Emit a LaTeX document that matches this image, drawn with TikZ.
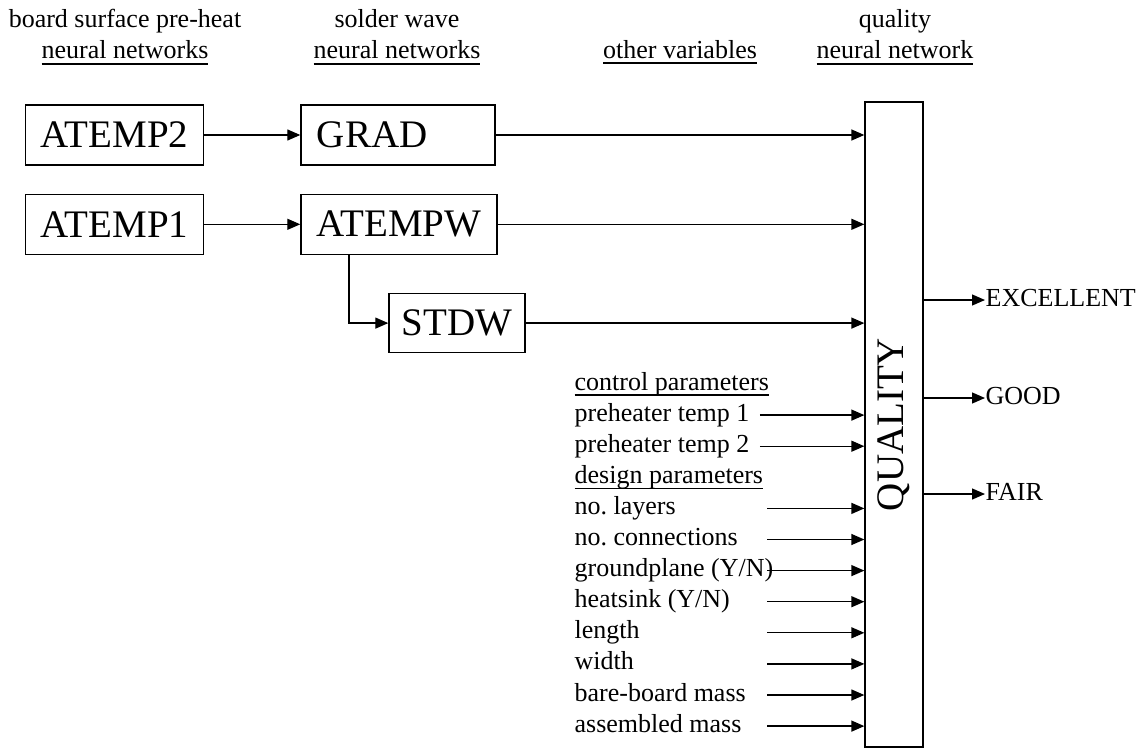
\documentclass[tikz,border=0pt]{standalone}
\usepackage{fontspec}
\setmainfont{Liberation Serif}
\usetikzlibrary{arrows.meta, positioning}
\frenchspacing
\newcommand{\hdrline}[1]{\setbox0\hbox{#1}\rlap{\vrule width\wd0 height -4.4pt depth 6pt}\box0}

\begin{document}
\begin{tikzpicture}[x=1pt,y=-1pt,->,>={Triangle[length=13pt,width=11pt]},
  line width=1.3pt,node distance=96pt,
  net node/.style={draw,font=\fontsize{39}{39}\selectfont,minimum height=60pt,inner xsep=10pt},
  head node/.style={font=\fontsize{26}{31}\selectfont,align=center,inner sep=0pt},
  var node/.style={font=\fontsize{26}{31}\selectfont,anchor=west,inner sep=0pt,text height=18pt,text depth=6pt}]
  \useasboundingbox (0,0) rectangle (1137,749);
  % headings
  \node[head node] (h1) at (125,37) {board surface pre-heat\\\hdrline{neural networks}};
  \node[head node] (h2) at (397,37) {solder wave\\\hdrline{neural networks}};
  \node[head node] (h3) at (680,52) {\hdrline{other variables}};
  \node[head node] (h4) at (895,37) {quality\\\hdrline{neural network}};
  % networks
  \node[net node,anchor=west,minimum width=178pt] (atemp2) at (25,135) {ATEMP2};
  \node[net node,minimum width=194pt,text width=170pt,align=left] (grad) [right=of atemp2] {\hspace{4pt}GRAD};
  \node[net node,minimum width=178pt] (atemp1) [below=28pt of atemp2] {ATEMP1};
  \node[net node,minimum width=196pt] (atempw) [right=of atemp1] {ATEMPW};
  \node[net node,minimum width=136pt,minimum height=59pt] (stdw) [below right=38pt and 88pt of atempw.south west] {STDW};
  \node[draw,minimum width=58pt,minimum height=645pt,inner sep=0pt,font=\fontsize{39}{39}\selectfont] (qual) at (894,424.5) {\rotatebox{90}{QUALITY}};
  % other variables
  \node[var node] (ctrl) at (574,384) {\hdrline{control parameters}};
  \node[var node,below=31.1pt of ctrl.west,anchor=west] (pt1) {preheater temp 1};
  \node[var node,below=31.1pt of pt1.west,anchor=west] (pt2) {preheater temp 2};
  \node[var node,below=31.1pt of pt2.west,anchor=west] (dsgn) {\hdrline{design parameters}};
  \node[var node,below=31.1pt of dsgn.west,anchor=west] (layers) {no. layers};
  \node[var node,below=31.1pt of layers.west,anchor=west] (conns) {no. connections};
  \node[var node,below=31.1pt of conns.west,anchor=west] (ground) {groundplane (Y/N)};
  \node[var node,below=31.1pt of ground.west,anchor=west] (heat) {heatsink (Y/N)};
  \node[var node,below=31.1pt of heat.west,anchor=west] (len) {length};
  \node[var node,below=31.1pt of len.west,anchor=west] (wid) {width};
  \node[var node,below=31.1pt of wid.west,anchor=west] (bare) {bare-board mass};
  \node[var node,below=31.1pt of bare.west,anchor=west] (asm) {assembled mass};
  \coordinate (src) at (767,0);
  % outputs
  \node[var node] (exc) at (985,300) {EXCELLENT};
  \node[var node] (good) at (985,398) {GOOD};
  \node[var node] (fair) at (985,494) {FAIR};
  \path
    (atemp2) edge (grad)
    (atemp1) edge (atempw)
    (grad) edge (grad -| qual.west)
    (atempw) edge (atempw -| qual.west)
    (stdw) edge (stdw -| qual.west)
    ([xshift=10pt]pt1.east) edge (pt1 -| qual.west)
    ([xshift=10pt]pt2.east) edge (pt2 -| qual.west)
    (src |- layers) edge (layers -| qual.west)
    (src |- conns) edge (conns -| qual.west)
    (src |- ground) edge (ground -| qual.west)
    (src |- heat) edge (heat -| qual.west)
    (src |- len) edge (len -| qual.west)
    (src |- wid) edge (wid -| qual.west)
    (src |- bare) edge (bare -| qual.west)
    (src |- asm) edge (asm -| qual.west)
    (exc -| qual.east) edge (exc.west)
    (good -| qual.east) edge (good.west)
    (fair -| qual.east) edge (fair.west);
  \draw ([xshift=-50pt]atempw.south) |- (stdw.west);
\end{tikzpicture}
\end{document}
